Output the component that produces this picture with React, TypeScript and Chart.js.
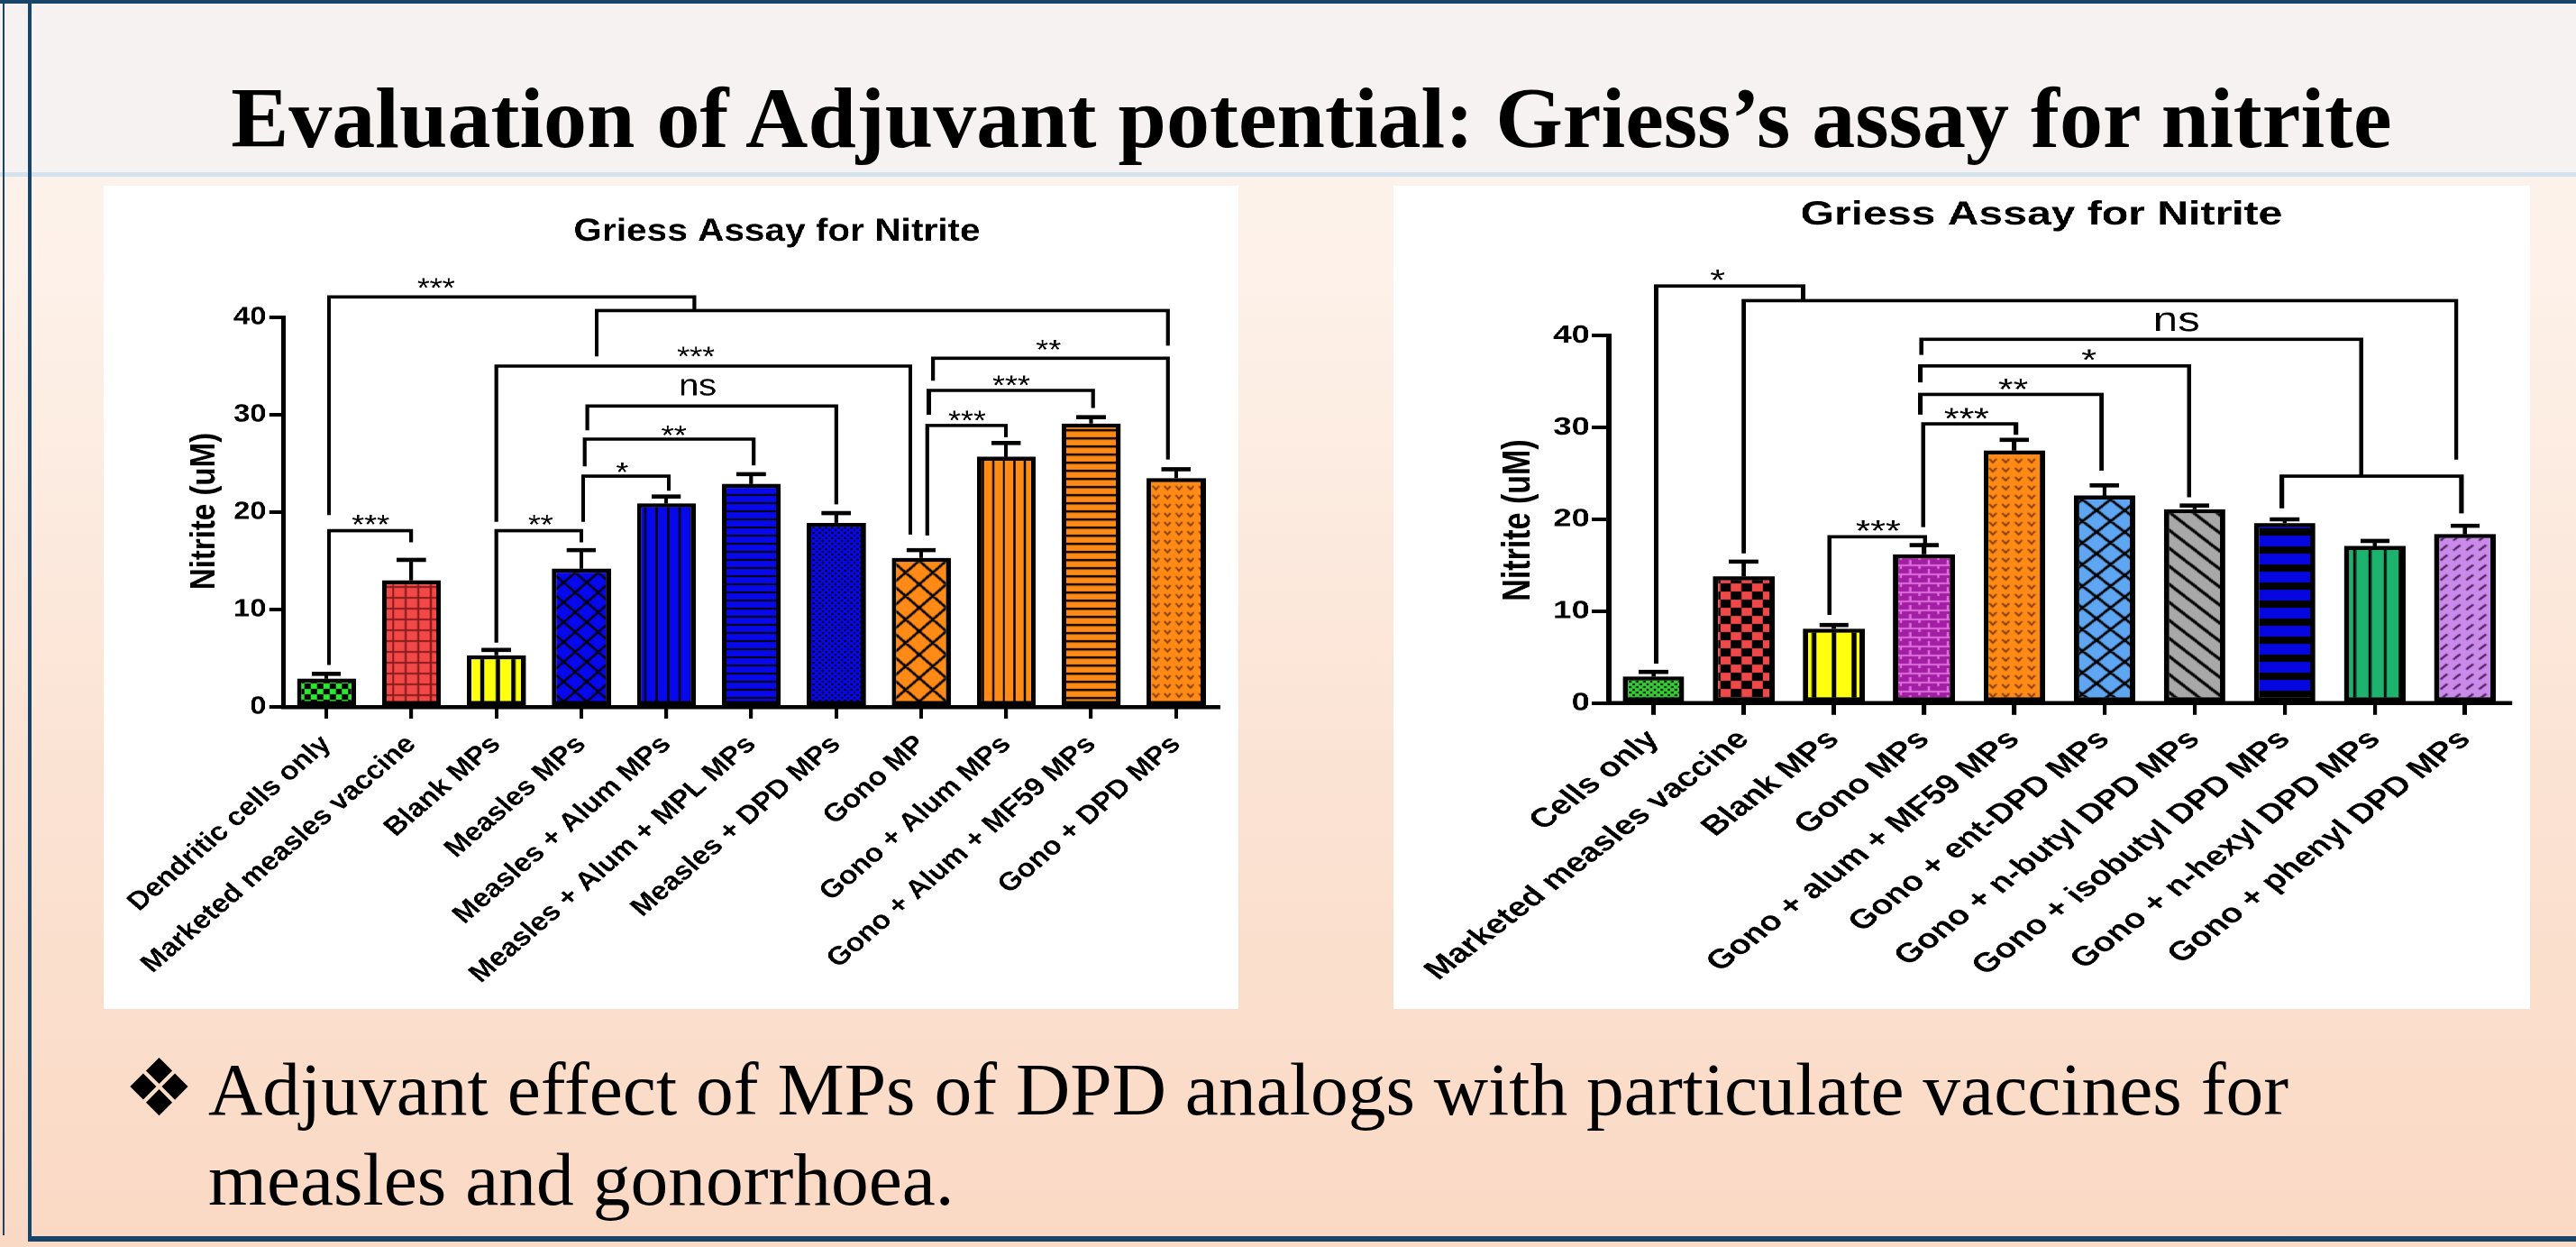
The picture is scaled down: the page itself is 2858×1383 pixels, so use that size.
import React, { useEffect, useRef } from 'react';
import { Chart, registerables } from 'chart.js';

Chart.register(...registerables);

// ---------------- Data ----------------
const leftCategories = [
  'Dendritic cells only',
  'Marketed measles vaccine',
  'Blank MPs',
  'Measles MPs',
  'Measles + Alum MPs',
  'Measles + Alum + MPL MPs',
  'Measles + DPD MPs',
  'Gono MP',
  'Gono + Alum MPs',
  'Gono + Alum + MF59 MPs',
  'Gono + DPD MPs',
];
const leftValues = [2.9, 13.0, 5.3, 14.2, 20.9, 22.9, 18.9, 15.3, 25.7, 29.1, 23.5];
const leftErrors = [0.5, 2.1, 0.55, 1.9, 0.7, 1.0, 1.0, 0.8, 1.4, 0.65, 0.9];
// [x1 (category index), x2, y of bar, y where left leg ends, y where right leg ends]
const leftBrackets = [
  [0.03, 4.33, 42.1, 19.7, 40.7],
  [3.18, 9.9, 40.7, 36.0, 37.1],
  [2.0, 6.87, 35.0, 19.0, 17.7],
  [3.07, 6.0, 30.9, 28.4, 20.8],
  [3.04, 5.03, 27.5, 24.7, 24.8],
  [3.02, 4.03, 23.7, 19.0, 22.2],
  [2.0, 3.0, 18.1, 6.6, 16.9],
  [0.03, 1.0, 18.1, 4.3, 16.9],
  [7.14, 9.9, 35.8, 33.5, 25.4],
  [7.09, 9.02, 32.5, 30.0, 30.7],
  [7.07, 8.0, 28.9, 17.6, 27.7],
];
const leftSigLabels: [number, number, string][] = [
  [1.29, 43.7, '***'],
  [4.35, 36.7, '***'],
  [4.37, 32.8, 'ns'],
  [4.09, 28.6, '**'],
  [3.48, 24.8, '*'],
  [2.52, 19.4, '**'],
  [0.52, 19.4, '***'],
  [8.5, 37.4, '**'],
  [8.06, 33.7, '***'],
  [7.54, 30.1, '***'],
];

const rightCategories = [
  'Cells only',
  'Marketed measles vaccine',
  'Blank MPs',
  'Gono MPs',
  'Gono + alum + MF59 MPs',
  'Gono + ent-DPD MPs',
  'Gono + n-butyl DPD MPs',
  'Gono + isobutyl DPD MPs',
  'Gono + n-hexyl DPD MPs',
  'Gono + phenyl DPD MPs',
];
const rightValues = [2.9, 13.8, 8.1, 16.2, 27.5, 22.6, 21.1, 19.6, 17.1, 18.4];
const rightErrors = [0.5, 1.6, 0.4, 1.0, 1.15, 1.1, 0.4, 0.4, 0.55, 0.9];
const rightBrackets = [
  [0.03, 1.66, 45.4, 4.3, 43.8],
  [1.0, 8.9, 43.8, 16.3, 26.5],
  [2.97, 7.85, 39.6, 37.9, 24.7],
  [2.96, 5.94, 36.7, 34.9, 22.4],
  [2.96, 4.97, 33.6, 31.4, 25.3],
  [2.99, 4.02, 30.4, 19.15, 29.2],
  [6.97, 8.96, 24.7, 21.2, 20.65],
  [1.95, 3.01, 18.1, 9.6, 17.3],
];
const rightSigLabels: [number, number, string][] = [
  [0.71, 46.75, '*'],
  [5.8, 41.5, 'ns'],
  [4.83, 38.1, '*'],
  [3.99, 34.9, '**'],
  [3.47, 31.7, '***'],
  [2.49, 19.5, '***'],
];

const yTicks = [0, 10, 20, 30, 40];
const chartTitle = 'Griess Assay for Nitrite';
const yAxisTitle = 'Nitrite (uM)';
const slideTitle = 'Evaluation of Adjuvant potential: Griess\u2019s assay for nitrite';
const bulletLine1 = 'Adjuvant effect of MPs of DPD analogs with particulate vaccines for';
const bulletLine2 = 'measles and gonorrhoea.';

// ---------------- Patterns ----------------
const SANS = '"Liberation Sans", Arial, Helvetica, sans-serif';
const SERIF = '"Liberation Serif", "Times New Roman", Times, serif';

type PatternSpec = { w: number; h: number; bg: string; paint: (c: CanvasRenderingContext2D) => void };

const stripesV = (w: number, lw: number, bg: string, fg = '#000'): PatternSpec => ({
  w, h: 4, bg, paint: (c) => { c.fillStyle = fg; c.fillRect(0, 0, lw, 4); },
});
const stripesH = (h: number, lw: number, bg: string, fg = '#000'): PatternSpec => ({
  w: 4, h, bg, paint: (c) => { c.fillStyle = fg; c.fillRect(0, 0, 4, lw); },
});
const lattice = (s: number, lw: number, bg: string, back: boolean, fwd: boolean, fg = '#000'): PatternSpec => ({
  w: s, h: s, bg, paint: (c) => {
    c.strokeStyle = fg; c.lineWidth = lw; c.beginPath();
    for (const ox of [-s, 0, s]) for (const oy of [-s, 0, s]) {
      if (back) { c.moveTo(ox, oy); c.lineTo(ox + s, oy + s); }
      if (fwd) { c.moveTo(ox + s, oy); c.lineTo(ox, oy + s); }
    }
    c.stroke();
  },
});
const checker = (s: number, bg: string, fg: string): PatternSpec => ({
  w: 2 * s, h: 2 * s, bg, paint: (c) => { c.fillStyle = fg; c.fillRect(0, 0, s, s); c.fillRect(s, s, s, s); },
});
const dots = (s: number, d: number, bg: string, fg = '#000'): PatternSpec => ({
  w: s, h: s, bg, paint: (c) => { c.fillStyle = fg; c.fillRect(0, 0, d, d); c.fillRect(s / 2, s / 2, d, d); },
});
const grid = (s: number, lw: number, bg: string, fg: string): PatternSpec => ({
  w: s, h: s, bg, paint: (c) => { c.fillStyle = fg; c.fillRect(0, 0, lw, s); c.fillRect(0, 0, s, lw); },
});
const chevrons = (bg: string, fg: string): PatternSpec => ({
  w: 11, h: 10, bg, paint: (c) => {
    c.strokeStyle = fg; c.lineWidth = 1.6; c.beginPath();
    c.moveTo(2.5, 3); c.lineTo(5.5, 7); c.lineTo(8.5, 3); c.stroke();
  },
});
const bricks = (bg: string, fg: string): PatternSpec => ({
  w: 16, h: 10, bg, paint: (c) => {
    c.fillStyle = fg; c.fillRect(0, 0, 16, 2); c.fillRect(0, 0, 2, 5); c.fillRect(8, 5, 2, 5);
  },
});
const dashes = (bg: string, fg: string): PatternSpec => ({
  w: 11, h: 11, bg, paint: (c) => {
    c.strokeStyle = fg; c.lineWidth = 1.8; c.beginPath();
    c.moveTo(2.5, 8.5); c.lineTo(8.5, 2.5); c.stroke();
  },
});

const ORANGE = '#ff8a16';
const BLUE = '#0808ec';
const leftPatterns: PatternSpec[] = [
  checker(6, '#2ee82e', '#000'),
  grid(12, 2, '#f24848', '#8a1c1c'),
  stripesV(15, 4, '#ffff10'),
  lattice(22, 2.2, BLUE, true, true),
  stripesV(11, 2, BLUE),
  stripesH(9, 2, BLUE),
  dots(6, 2, BLUE),
  lattice(26, 2.6, ORANGE, true, true),
  stripesV(10, 2, ORANGE),
  stripesH(9, 2.4, ORANGE),
  chevrons(ORANGE, '#7a3800'),
];
const rightPatterns: PatternSpec[] = [
  dots(6, 2, '#36cc36'),
  checker(9, '#ee4848', '#000'),
  stripesV(17, 4, '#ffff10'),
  bricks('#a21ea2', '#dd6ddd'),
  chevrons(ORANGE, '#7a3800'),
  lattice(24, 2.6, '#5ea6f2', true, true),
  lattice(20, 3, '#a8a8a8', true, false),
  stripesH(20, 8, '#0606e0'),
  stripesV(13, 2.5, '#1db36e'),
  dashes('#c98aea', '#4a1a5a'),
];

function buildPattern(ctx: CanvasRenderingContext2D, p: PatternSpec): CanvasPattern | string {
  const cv = document.createElement('canvas');
  cv.width = p.w; cv.height = p.h;
  const c = cv.getContext('2d');
  if (!c) return p.bg;
  c.fillStyle = p.bg; c.fillRect(0, 0, p.w, p.h);
  p.paint(c);
  return ctx.createPattern(cv, 'repeat') || p.bg;
}

// ---------------- Chart panel ----------------
type PanelCfg = {
  categories: string[]; values: number[]; errors: number[]; patterns: PatternSpec[];
  brackets: number[][]; sigLabels: [number, number, string][];
  left: number; top: number; lw: number; h: number; sx: number;
  yW: number; xH: number; padTop: number; padRight: number;
  titleX: number; titleY: number; titleSize: number;
  yTitleX: number; yTitleY: number; yTitleSize: number;
  tickSize: number; xLabelSize: number; xPad: number; yPad: number;
  starSize: number; nsSize: number; barPct: number; capHalf: number;
};

function Panel({ cfg }: { cfg: PanelCfg }) {
  const ref = useRef<HTMLCanvasElement | null>(null);
  useEffect(() => {
    const canvas = ref.current;
    if (!canvas) return;
    const ctx0 = canvas.getContext('2d') as CanvasRenderingContext2D;
    const fills = cfg.patterns.map((p) => buildPattern(ctx0, p));
    const overlay = {
      id: 'overlay',
      afterDraw(chart: any) {
        const ctx: CanvasRenderingContext2D = chart.ctx;
        const xs = chart.scales.x;
        const ys = chart.scales.y;
        const meta = chart.getDatasetMeta(0);
        ctx.save();
        ctx.strokeStyle = '#000';
        ctx.fillStyle = '#000';
        ctx.lineCap = 'butt';
        // error bars (mean + SEM)
        meta.data.forEach((bar: any, i: number) => {
          const yTop = ys.getPixelForValue(cfg.values[i]);
          const yCap = ys.getPixelForValue(cfg.values[i] + cfg.errors[i]);
          ctx.lineWidth = 3.6;
          ctx.beginPath(); ctx.moveTo(bar.x, yTop); ctx.lineTo(bar.x, yCap); ctx.stroke();
          ctx.lineWidth = 4.6;
          ctx.beginPath(); ctx.moveTo(bar.x - cfg.capHalf, yCap); ctx.lineTo(bar.x + cfg.capHalf, yCap); ctx.stroke();
        });
        // significance brackets
        ctx.lineWidth = 3.6;
        ctx.lineJoin = 'miter';
        cfg.brackets.forEach(([x1, x2, y, yl, yr]) => {
          ctx.beginPath();
          ctx.moveTo(xs.getPixelForValue(x1), ys.getPixelForValue(yl));
          ctx.lineTo(xs.getPixelForValue(x1), ys.getPixelForValue(y));
          ctx.lineTo(xs.getPixelForValue(x2), ys.getPixelForValue(y));
          ctx.lineTo(xs.getPixelForValue(x2), ys.getPixelForValue(yr));
          ctx.stroke();
        });
        ctx.textAlign = 'center';
        ctx.textBaseline = 'alphabetic';
        cfg.sigLabels.forEach(([x, y, t]) => {
          const ns = t === 'ns';
          const size = ns ? cfg.nsSize : cfg.starSize;
          ctx.font = `${size}px ${SANS}`;
          const off = ns ? 0.26 * size : 0.57 * size;
          ctx.fillText(t, xs.getPixelForValue(x), ys.getPixelForValue(y) + off);
        });
        // chart title
        ctx.font = `bold ${cfg.titleSize}px ${SANS}`;
        ctx.fillText(chartTitle, cfg.titleX, cfg.titleY);
        // y axis title
        ctx.translate(cfg.yTitleX, cfg.yTitleY);
        ctx.rotate(-Math.PI / 2);
        ctx.textBaseline = 'middle';
        ctx.font = `bold ${cfg.yTitleSize}px ${SANS}`;
        ctx.fillText(yAxisTitle, 0, 0);
        ctx.restore();
      },
    };
    const chart = new Chart(canvas, {
      type: 'bar',
      data: {
        labels: cfg.categories,
        datasets: [{
          data: cfg.values,
          backgroundColor: fills as any,
          borderColor: '#000',
          borderWidth: 4.5,
          borderSkipped: false,
          barPercentage: cfg.barPct,
          categoryPercentage: 1,
        }],
      },
      options: {
        responsive: false,
        animation: false,
        devicePixelRatio: 2,
        events: [],
        layout: { padding: { left: 0, right: cfg.padRight, top: cfg.padTop, bottom: 0 } },
        plugins: { legend: { display: false }, tooltip: { enabled: false }, title: { display: false } },
        scales: {
          x: {
            type: 'category',
            offset: true,
            grid: { offset: false, drawOnChartArea: false, drawTicks: true, tickLength: 13, color: '#000', lineWidth: 3.6 },
            border: { display: true, color: '#000', width: 4.5 },
            ticks: {
              autoSkip: false, maxRotation: 45, minRotation: 45, padding: cfg.xPad, color: '#000',
              font: { family: SANS, size: cfg.xLabelSize, weight: 'bold' },
            },
            afterFit: (s: any) => { s.height = cfg.xH; },
          },
          y: {
            type: 'linear',
            min: 0,
            max: 40,
            afterBuildTicks: (s: any) => { s.ticks = yTicks.map((v) => ({ value: v })); },
            grid: { drawOnChartArea: false, drawTicks: true, tickLength: 14, color: '#000', lineWidth: 4 },
            border: { display: true, color: '#000', width: 4.5 },
            ticks: { padding: cfg.yPad, color: '#000', font: { family: SANS, size: cfg.tickSize, weight: 'bold' } },
            afterFit: (s: any) => { s.width = cfg.yW; },
          },
        },
      } as any,
      plugins: [overlay],
    });
    return () => { chart.destroy(); };
  }, [cfg]);
  return (
    <div style={{
      position: 'absolute', left: cfg.left, top: cfg.top, width: cfg.lw, height: cfg.h,
      background: '#fff', transform: `scaleX(${cfg.sx})`, transformOrigin: '0 0',
    }}>
      <canvas ref={ref} width={cfg.lw} height={cfg.h} style={{ width: cfg.lw, height: cfg.h, display: 'block' }} />
    </div>
  );
}

const leftCfg: PanelCfg = {
  categories: leftCategories, values: leftValues, errors: leftErrors, patterns: leftPatterns,
  brackets: leftBrackets, sigLabels: leftSigLabels,
  left: 115, top: 206, lw: 1085, h: 913, sx: 1.16,
  yW: 172.4, xH: 335, padTop: 146, padRight: 18.6,
  titleX: 644, titleY: 61, titleSize: 35,
  yTitleX: 97, yTitleY: 361, yTitleSize: 33,
  tickSize: 28, xLabelSize: 28.5, xPad: 12, yPad: 3,
  starSize: 31, nsSize: 34, barPct: 0.695, capHalf: 14,
};

const rightCfg: PanelCfg = {
  categories: rightCategories, values: rightValues, errors: rightErrors, patterns: rightPatterns,
  brackets: rightBrackets, sigLabels: rightSigLabels,
  left: 1546, top: 206, lw: 970, h: 913, sx: 1.3,
  yW: 183.5, xH: 339.2, padTop: 166.2, padRight: 17,
  titleX: 553, titleY: 43, titleSize: 37,
  yTitleX: 107, yTitleY: 371, yTitleSize: 34,
  tickSize: 28, xLabelSize: 30, xPad: 10, yPad: 2,
  starSize: 33, nsSize: 38, barPct: 0.683, capHalf: 12.5,
};

const NAVY = '#17456a';

export default function App() {
  useEffect(() => {
    document.body.style.margin = '0';
    document.body.style.overflow = 'hidden';
  }, []);
  return (
    <div style={{
      position: 'absolute', left: 0, top: 0, width: 2858, height: 1383, overflow: 'hidden',
      background: 'linear-gradient(180deg, #fdf4ee 0px, #fdf1e9 300px, #fbe2d2 900px, #fad9c4 1383px)',
    }}>
      <div style={{ position: 'absolute', left: 0, top: 0, width: 2858, height: 194, background: '#f5f2f1' }} />
      <div style={{ position: 'absolute', left: 0, top: 191, width: 2858, height: 5, background: '#d3e2ef' }} />
      <div style={{ position: 'absolute', left: 0, top: 0, width: 2858, height: 4, background: NAVY }} />
      <div style={{ position: 'absolute', left: 3, top: 0, width: 2, height: 1370, background: NAVY }} />
      <div style={{ position: 'absolute', left: 31, top: 0, width: 4, height: 1377, background: NAVY }} />
      <div style={{ position: 'absolute', left: 31, top: 1371, width: 2827, height: 6, background: NAVY }} />

      <div style={{
        position: 'absolute', left: 1455, top: 83, transform: 'translateX(-50%)', whiteSpace: 'nowrap',
        fontFamily: SERIF, fontWeight: 'bold', fontSize: 96, lineHeight: '96px', color: '#000',
      }}>{slideTitle}</div>

      <Panel cfg={leftCfg} />
      <Panel cfg={rightCfg} />

      <div style={{
        position: 'absolute', left: 137, top: 1162, fontFamily: '"DejaVu Sans", sans-serif',
        fontSize: 88, lineHeight: '90px', color: '#000',
      }}>{'\u2756'}</div>
      <div style={{
        position: 'absolute', left: 231, top: 1158, whiteSpace: 'nowrap',
        fontFamily: SERIF, fontSize: 83.5, lineHeight: '100px', color: '#000',
      }}>
        {bulletLine1}<br />{bulletLine2}
      </div>
    </div>
  );
}
